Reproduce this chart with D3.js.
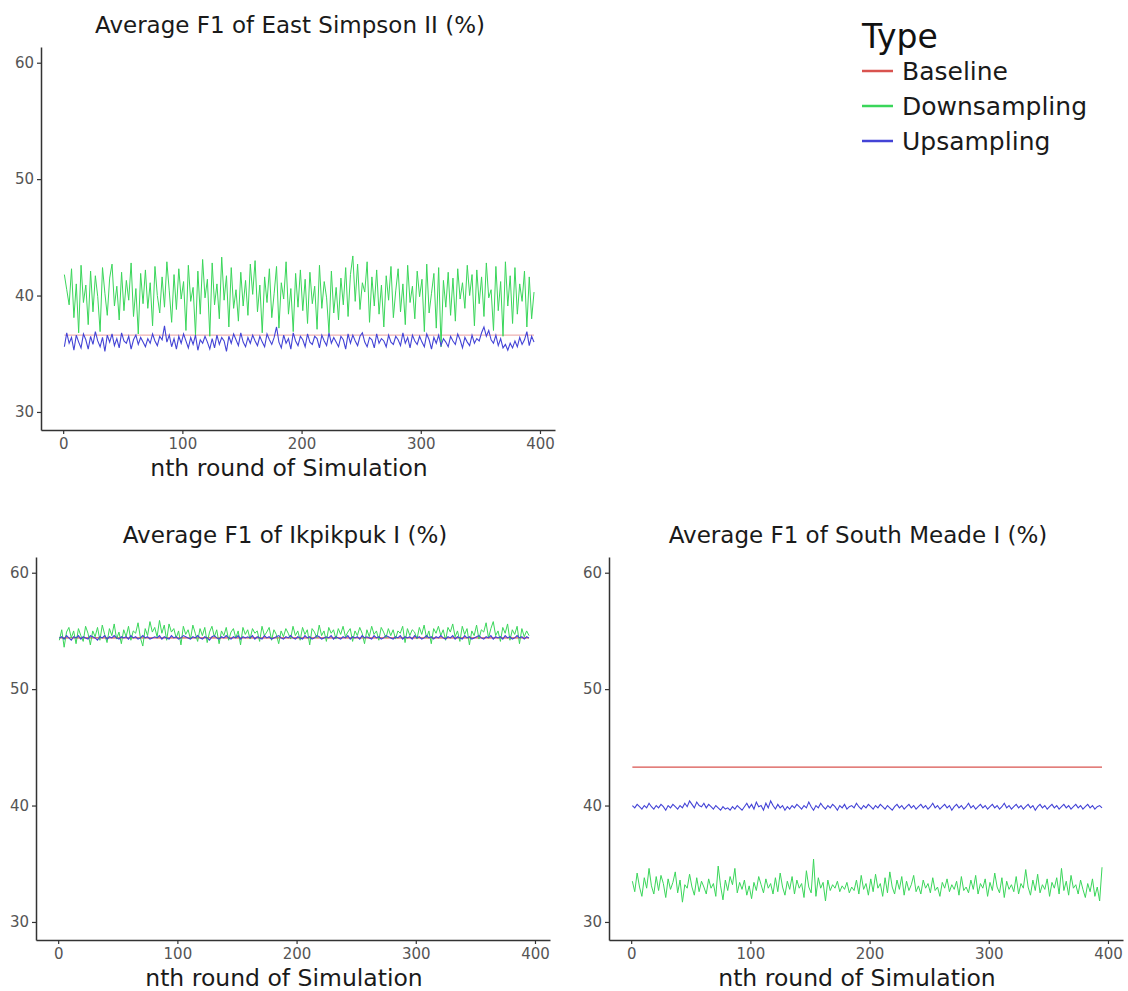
<!DOCTYPE html>
<html>
<head>
<meta charset="utf-8">
<script src="https://cdn.jsdelivr.net/npm/d3@7"></script>
<style>
  body { margin: 0; background: #fff; }
  text { font-family: "DejaVu Sans", sans-serif; }
</style>
</head>
<body>
<svg id="chart" width="1128" height="991"></svg>
<script>
// legend / series types
const types = ["Baseline", "Downsampling", "Upsampling"];
const typeColors = ["#d9534f", "#3ad65a", "#4343d6"];

// tick labels
const xTicks = [0, 100, 200, 300, 400];
const yTicks = [30, 40, 50, 60];

const panelTitles = [
  "Average F1 of East Simpson II (%)",
  "Average F1 of Ikpikpuk I (%)",
  "Average F1 of South Meade I (%)"
];

// baseline F1, constant over rounds
const baselineValues = [36.6, 54.4, 43.3];

// values read every 2nd round (1, 3, 5 ... 395)
const eastSimpsonDown = [
  41.8, 40.5, 39.2, 42.3, 38.1, 41.0, 36.8, 42.6, 39.4, 40.9, 37.5, 42.1, 38.6, 41.7, 39.9, 36.9, 42.4, 40.2, 38.3, 41.5,
  42.7, 39.1, 40.8, 37.9, 42.0, 38.7, 41.3, 39.6, 42.8, 38.2, 40.6, 36.7, 41.9, 39.3, 42.2, 38.9, 41.1, 37.4, 42.5, 40.0,
  38.5, 41.6, 39.0, 42.9, 40.4, 37.7, 41.8, 38.8, 42.3, 39.7, 41.2, 37.0, 42.6, 39.5, 40.7, 36.6, 42.1, 38.4, 43.1, 39.8,
  41.4, 36.5, 42.8, 39.2, 41.0, 38.0, 43.3, 39.6, 41.7, 37.3, 42.4, 38.9, 40.5, 37.8, 42.0, 39.1, 41.3, 38.3, 42.7, 40.1,
  43.0, 38.6, 40.9, 36.8, 41.6, 39.4, 42.3, 38.1, 40.2, 42.5, 37.2, 41.1, 39.7, 42.9, 38.4, 40.6, 36.9, 41.9, 39.0, 42.2,
  38.7, 41.4, 37.6, 42.0, 39.3, 40.8, 37.1, 42.6, 38.9, 41.2, 39.8, 36.8, 42.1, 38.5, 40.7, 37.9, 41.5, 39.2, 42.4, 38.2,
  41.8, 43.4, 39.5, 42.7, 38.8, 41.1, 40.3, 42.9, 37.7, 41.6, 39.1, 42.2, 38.4, 40.9, 37.3, 41.7, 39.6, 42.5, 38.1, 40.4,
  42.3, 38.6, 41.0, 37.5, 42.6, 39.4, 40.8, 38.0, 42.1, 39.9, 41.4, 36.9, 42.7, 38.5, 40.2, 41.9, 37.2, 42.4, 35.6, 41.3,
  39.0, 42.0, 38.3, 41.5, 37.8, 42.3, 39.7, 41.1, 38.9, 42.6, 40.0, 41.8, 37.4, 42.2, 39.3, 41.6, 38.2, 42.8, 39.8, 40.5,
  37.0, 42.5, 38.7, 41.2, 36.5, 42.9, 39.1, 41.7, 37.6, 42.4, 38.4, 41.0, 39.5, 42.1, 37.3, 41.6, 38.0, 40.3
];
const eastSimpsonUp = [
  35.6, 36.8, 35.9, 36.4, 35.3, 36.6, 36.0, 35.5, 36.7, 36.2, 35.4, 36.5, 35.8, 36.9, 36.1, 35.6, 36.4, 35.2, 36.6, 36.0,
  36.7, 35.7, 36.3, 35.5, 36.8, 36.1, 35.9, 36.5, 35.4, 36.2, 36.6, 35.8, 36.4, 36.0, 35.6, 36.3, 35.9, 36.7, 36.1, 35.7,
  36.5, 36.2, 37.4, 36.0, 36.6, 35.6, 36.3, 35.4, 36.5, 35.9, 36.7, 36.1, 35.5, 36.4, 35.8, 36.6, 35.3, 36.2, 35.9, 36.5,
  36.0, 35.4, 36.3, 35.5, 36.6, 35.8, 36.4, 36.1, 35.2, 36.5, 35.9, 36.7, 36.2, 35.7, 36.8, 36.0, 35.6, 36.4, 35.9, 36.6,
  36.1, 35.7, 36.5, 36.0, 35.6, 36.7, 36.2, 35.8, 36.4, 37.3, 36.0, 35.5, 36.6, 35.9, 36.3, 35.4, 36.8, 36.1, 35.7, 36.5,
  36.2, 35.6, 36.7, 36.0, 35.8, 36.5, 36.3, 35.5, 36.6, 36.1, 35.7, 36.8, 35.9, 36.4, 36.0, 35.6, 36.5, 36.2, 35.4, 36.7,
  35.9, 36.6, 36.1, 35.7, 36.5, 36.8, 36.0, 35.6, 36.4, 36.2, 35.5, 36.7, 35.9, 36.3, 36.1, 35.6, 36.6, 36.0, 35.8, 36.5,
  36.2, 35.7, 36.8, 35.9, 36.4, 35.5, 36.6, 36.1, 35.8, 36.5, 36.0, 35.6, 36.7, 36.2, 35.4, 36.4, 35.9, 36.6, 35.7, 36.3,
  36.0, 35.6, 36.5, 36.1, 35.8, 36.7, 36.2, 35.5, 36.4, 36.0, 35.7, 36.6, 35.9, 36.3, 36.1, 36.8, 37.3, 36.5, 37.0, 36.2,
  35.9, 36.6, 35.7, 36.3, 35.5, 35.8, 35.3, 35.9, 35.5, 36.1, 35.6, 36.4, 35.8, 36.2, 36.9, 35.7, 36.5, 36.0
];
const ikpikpukDown = [
  54.2, 55.1, 53.6, 54.9, 55.3, 54.4, 55.0, 53.9, 55.2, 54.6, 54.1, 55.4, 54.8, 53.8, 55.0, 54.5, 55.3, 54.2, 55.5, 54.7,
  54.0, 55.2, 54.6, 55.6, 54.3, 54.9, 53.9, 55.1, 54.5, 55.4, 54.2, 55.0, 54.8, 55.7, 54.4, 53.7, 55.2, 54.6, 55.8, 54.9,
  55.3, 54.5, 55.9, 54.8, 55.5, 54.2, 55.6, 54.9, 55.2, 54.4, 55.0, 53.8, 55.4, 54.7, 55.1, 54.3, 55.5, 54.8, 54.1, 55.2,
  54.6, 55.3, 54.0, 54.9, 55.4, 54.5, 55.1, 53.9, 55.0, 54.6, 55.3, 54.2, 54.9, 55.2, 54.4, 55.0, 53.8, 55.3, 54.7, 55.1,
  54.3, 55.2, 54.8, 55.0, 54.1, 55.4, 54.6, 54.9, 55.3, 54.2, 55.1, 54.7, 53.9, 55.0, 54.5, 55.2, 54.8, 54.3, 55.4, 54.6,
  55.0, 54.2, 55.3, 54.7, 55.1, 53.8, 55.2, 54.9, 54.4, 55.5, 54.6, 55.0, 54.1, 55.3, 54.8, 55.1, 54.3, 55.2, 54.7, 55.4,
  54.5, 54.9, 55.2, 54.1, 55.0, 54.6, 55.3, 54.8, 53.9, 55.1, 54.5, 55.4, 54.7, 55.0, 54.2, 55.3, 54.9, 54.4, 55.2, 54.6,
  55.1, 54.3, 55.0, 54.8, 55.4, 54.0, 55.2, 54.6, 55.1, 54.9, 54.3, 55.3, 54.7, 55.5, 54.4, 55.0, 53.9, 55.2, 54.8, 55.4,
  54.6, 55.1, 54.2, 55.3, 54.9, 55.6, 54.5, 55.0, 54.1, 55.4, 54.7, 55.2, 53.8, 55.0, 54.6, 55.5, 54.3, 55.1, 54.9, 55.7,
  54.4, 55.2, 55.8, 54.6, 55.0, 54.1, 55.3, 54.8, 55.6, 54.2, 55.1, 54.7, 55.4, 53.9, 55.2, 54.5, 55.0, 54.6
];
const ikpikpukUp = [
  54.4, 54.5, 54.3, 54.6, 54.4, 54.2, 54.5, 54.4, 54.6, 54.3, 54.5, 54.4, 54.3, 54.6, 54.5, 54.4, 54.2, 54.5, 54.4, 54.6,
  54.3, 54.5, 54.4, 54.6, 54.4, 54.3, 54.5, 54.4, 54.5, 54.3, 54.6, 54.4, 54.5, 54.3, 54.4, 54.6, 54.4, 54.5, 54.3, 54.4,
  54.5, 54.4, 54.6, 54.3, 54.5, 54.4, 54.3, 54.6, 54.4, 54.5, 54.3, 54.4, 54.6, 54.5, 54.4, 54.3, 54.5, 54.4, 54.6, 54.4,
  54.3, 54.5, 54.4, 54.2, 54.5, 54.6, 54.4, 54.3, 54.5, 54.4, 54.6, 54.4, 54.3, 54.5, 54.4, 54.6, 54.3, 54.5, 54.4, 54.5,
  54.4, 54.6, 54.3, 54.5, 54.4, 54.3, 54.6, 54.4, 54.5, 54.3, 54.4, 54.5, 54.6, 54.4, 54.3, 54.5, 54.4, 54.6, 54.4, 54.3,
  54.5, 54.4, 54.3, 54.6, 54.4, 54.5, 54.3, 54.4, 54.6, 54.5, 54.3, 54.4, 54.5, 54.4, 54.6, 54.3, 54.5, 54.4, 54.3, 54.5,
  54.4, 54.6, 54.3, 54.5, 54.4, 54.5, 54.3, 54.6, 54.4, 54.5, 54.4, 54.3, 54.6, 54.4, 54.5, 54.3, 54.4, 54.6, 54.5, 54.4,
  54.3, 54.5, 54.4, 54.6, 54.3, 54.5, 54.4, 54.5, 54.3, 54.6, 54.4, 54.5, 54.3, 54.4, 54.6, 54.4, 54.5, 54.3, 54.5, 54.4,
  54.6, 54.4, 54.3, 54.5, 54.4, 54.6, 54.3, 54.5, 54.4, 54.3, 54.6, 54.4, 54.5, 54.3, 54.4, 54.5, 54.6, 54.4, 54.3, 54.5,
  54.4, 54.6, 54.3, 54.5, 54.4, 54.5, 54.3, 54.6, 54.4, 54.5, 54.3, 54.4, 54.6, 54.4, 54.5, 54.3, 54.5, 54.4
];
const southMeadeDown = [
  33.5, 32.6, 34.2, 33.0, 32.2, 33.8, 32.9, 34.6, 33.1, 32.4, 33.9, 32.7, 34.0, 33.3, 32.1, 33.7, 32.8, 33.4, 34.3, 32.5,
  33.6, 31.7, 33.2, 32.9, 34.1, 33.0, 32.3, 33.8, 32.6, 33.5, 33.0, 32.4, 33.7, 32.9, 33.3, 32.2, 34.8, 33.1, 31.9, 33.6,
  32.7, 33.9, 33.2, 34.6, 32.5, 33.4, 32.8, 33.6, 32.3, 33.1, 32.0, 33.4, 32.7, 33.9, 33.2, 32.5, 33.7, 32.9, 33.3, 32.4,
  33.8, 32.6, 34.2, 33.0, 32.3, 33.5, 32.8, 33.9, 32.4, 33.6, 32.9, 33.3, 32.1, 34.4, 33.0, 32.5, 35.4, 32.2, 33.8, 32.9,
  33.4, 31.8, 33.6, 32.7, 33.2, 32.9, 33.5, 32.6, 33.1, 32.8, 33.4, 32.5, 33.0, 32.7, 33.6, 32.4, 34.0, 32.8, 33.3, 32.3,
  33.7, 32.6, 34.1, 32.9, 33.3, 32.2, 33.8, 32.5, 34.3, 33.0, 32.4, 33.6, 32.8, 33.9, 32.3, 33.5, 32.7, 33.2, 34.0, 32.6,
  33.1, 32.4, 33.6, 32.9, 33.3, 32.5, 33.8, 32.7, 33.0, 32.2, 33.4, 32.9, 33.7, 32.6, 33.2, 32.8, 33.5, 32.3, 33.9, 32.7,
  33.0, 32.5, 33.6, 32.8, 34.0, 32.4, 33.3, 32.9, 33.7, 32.2, 33.4, 32.7, 34.2, 33.0, 32.5, 33.8, 32.1, 33.5, 32.8, 33.2,
  32.6, 33.9, 32.4, 33.3, 32.9, 34.5, 33.0, 32.3, 33.6, 32.7, 34.1, 32.5, 33.2, 32.8, 33.7, 32.2, 33.4, 32.9, 33.8, 32.4,
  34.6, 32.7, 33.5, 32.3, 34.0, 32.9, 33.2, 32.4, 33.6, 32.8, 32.1, 33.3, 32.6, 33.7, 32.2, 33.0, 31.8, 34.7
];
const southMeadeUp = [
  40.0, 39.8, 40.1, 39.9, 39.7, 40.0, 39.8, 40.2, 39.9, 39.7, 40.0, 39.8, 40.1, 39.9, 39.6, 40.0, 39.8, 40.1, 39.9, 39.7,
  40.0, 39.8, 40.2, 39.9, 40.4, 40.1, 39.8, 40.3, 40.0, 39.9, 40.2, 39.8, 40.1, 39.9, 39.7, 40.0, 39.8, 39.6, 39.9, 39.7,
  39.8, 39.6, 39.9, 39.7, 40.0, 39.8, 39.6, 39.9, 40.2, 39.8, 40.1, 39.7, 40.3, 39.9, 40.0, 39.6, 40.2, 39.8, 40.4, 40.0,
  39.7, 40.1, 39.8, 40.0, 39.6, 39.9, 39.7, 40.0, 39.8, 40.1, 39.9, 39.7, 40.0, 39.8, 40.3, 39.9, 39.6, 40.0, 39.8, 40.2,
  39.9, 39.7, 40.0, 39.8, 40.1, 39.9, 39.6, 40.0, 39.8, 40.1, 39.7, 39.9, 40.0, 39.8, 40.2, 39.9, 39.7, 40.0, 39.8, 40.1,
  39.9, 39.7, 40.0, 39.8, 40.1, 39.9, 39.7, 40.0, 39.8, 39.6, 39.9, 40.1, 39.8, 40.0, 39.7, 39.9, 40.1, 39.8, 40.0, 39.7,
  39.9, 40.1, 39.8, 40.0, 39.7, 39.9, 40.2, 39.8, 40.0, 39.7, 39.9, 40.1, 39.8, 40.0, 39.6, 39.9, 40.1, 39.8, 40.0, 39.7,
  39.9, 40.2, 39.8, 40.0, 39.7, 39.9, 40.1, 39.8, 40.0, 39.7, 39.9, 40.1, 39.8, 40.0, 39.7, 39.9, 40.2, 39.8, 40.0, 39.7,
  39.9, 40.1, 39.8, 40.0, 39.7, 39.9, 40.1, 39.8, 40.0, 39.6, 39.9, 40.1, 39.8, 40.0, 39.7, 39.9, 40.1, 39.8, 40.0, 39.7,
  39.9, 40.1, 39.8, 40.0, 39.7, 39.9, 40.1, 39.8, 40.0, 39.7, 39.9, 40.1, 39.8, 40.0, 39.7, 39.9, 40.0, 39.8
];

const panels = [
  { title: panelTitles[0], left: 41, top: 47, base: baselineValues[0], down: eastSimpsonDown, up: eastSimpsonUp },
  { title: panelTitles[1], left: 36, top: 557, base: baselineValues[1], down: ikpikpukDown, up: ikpikpukUp },
  { title: panelTitles[2], left: 609, top: 557, base: baselineValues[2], down: southMeadeDown, up: southMeadeUp }
];

const panelW = 514, panelH = 383;
const round = i => 1 + 2 * i;

const svg = d3.select("#chart");
svg.append("rect").attr("width", 1128).attr("height", 991).attr("fill", "#fff");

panels.forEach((p, k) => {
  const x = d3.scaleLinear().domain([-18.6, 412.6]).range([0, panelW]);
  const y = d3.scaleLinear().domain([28.45, 61.35]).range([panelH, 0]);
  const g = svg.append("g").attr("transform", `translate(${p.left},${p.top})`);

  const line = d3.line()
    .x((d, i) => x(round(i)))
    .y(d => y(d));

  const lastRound = round(p.down.length - 1);
  const baseline = [{ r: 1, v: p.base }, { r: lastRound, v: p.base }];

  // baseline sits under the other lines; where they overlap it barely shows
  g.append("path")
    .datum(baseline)
    .attr("fill", "none")
    .attr("stroke", typeColors[0])
    .attr("stroke-width", 1.2)
    .attr("stroke-opacity", k === 0 ? 0.45 : 1)
    .attr("d", d3.line().x(d => x(d.r)).y(d => y(d.v)));

  g.append("path")
    .datum(p.down)
    .attr("fill", "none")
    .attr("stroke", typeColors[1])
    .attr("stroke-width", 1)
    .attr("d", line);

  g.append("path")
    .datum(p.up)
    .attr("fill", "none")
    .attr("stroke", typeColors[2])
    .attr("stroke-width", 1.1)
    .attr("d", line);

  // axes
  const xAxis = g.append("g")
    .attr("transform", `translate(0,${panelH})`)
    .call(d3.axisBottom(x).tickValues(xTicks).tickSize(4).tickSizeOuter(0).tickPadding(4));
  const yAxis = g.append("g")
    .call(d3.axisLeft(y).tickValues(yTicks).tickSize(4).tickSizeOuter(0).tickPadding(3));

  [xAxis, yAxis].forEach(a => {
    a.select(".domain").attr("stroke", "#333").attr("stroke-width", 1.5);
    a.selectAll(".tick line").attr("stroke", "#333").attr("stroke-width", 1.2);
    a.selectAll(".tick text")
      .attr("fill", "#555")
      .style("font-size", "15px")
      .style("font-family", "'DejaVu Sans', sans-serif");
  });

  g.append("text")
    .attr("x", panelW / 2 - 8)
    .attr("y", -14)
    .attr("text-anchor", "middle")
    .attr("fill", "#1a1a1a")
    .style("font-size", "23px")
    .text(p.title);

  g.append("text")
    .attr("x", panelW / 2 - 9)
    .attr("y", panelH + 46)
    .attr("text-anchor", "middle")
    .attr("fill", "#1a1a1a")
    .style("font-size", "23.5px")
    .text("nth round of Simulation");
});

// legend
const legend = svg.append("g").attr("transform", "translate(862,0)");
legend.append("text")
  .attr("x", 0)
  .attr("y", 48)
  .attr("fill", "#111")
  .style("font-size", "33px")
  .text("Type");

types.forEach((t, i) => {
  const ly = 71 + i * 35;
  legend.append("line")
    .attr("x1", 0).attr("x2", 31)
    .attr("y1", ly).attr("y2", ly)
    .attr("stroke", typeColors[i])
    .attr("stroke-width", 2.5);
  legend.append("text")
    .attr("x", 40)
    .attr("y", ly)
    .attr("dy", "0.36em")
    .attr("fill", "#1a1a1a")
    .style("font-size", "25px")
    .text(t);
});
</script>
</body>
</html>
